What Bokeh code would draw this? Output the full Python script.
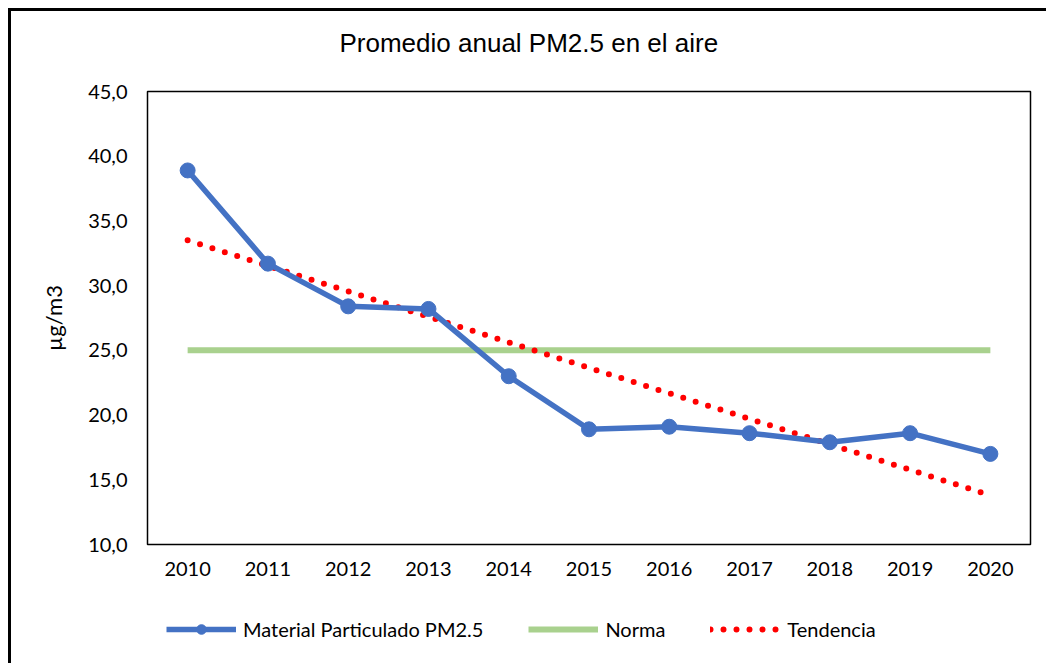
from bokeh.plotting import figure
from bokeh.layouts import column
from bokeh.models import (FactorRange, Range1d, FixedTicker, CustomJSTickFormatter,
                          Title, Legend, LegendItem)
from bokeh.embed import file_html
from bokeh.resources import INLINE

# ---- data ----
years = ["2010", "2011", "2012", "2013", "2014", "2015", "2016", "2017", "2018", "2019", "2020"]
pm25 = [38.9, 31.7, 28.4, 28.2, 23.0, 18.9, 19.1, 18.6, 17.9, 18.6, 17.0]
norma_years = ["2010", "2020"]
norma_values = [25.0, 25.0]
trend_years = ["2010", "2020"]
trend_values = [33.5, 13.8]
y_ticks = [10, 15, 20, 25, 30, 35, 40, 45]

title_text = "Promedio anual PM2.5 en el aire"
y_label = "µg/m3"
series_names = ["Material Particulado PM2.5", "Norma", "Tendencia"]

FONT = "Lato"
BLUE, GREEN, RED = "#4472C4", "#A9D18E", "#FF0000"


def add_series(fig):
    rn = fig.line(norma_years, norma_values, line_color=GREEN, line_width=6)
    rt = fig.line(trend_years, trend_values, line_color=RED, line_width=6,
                  line_dash="0 13", line_cap="round")
    rl = fig.line(years, pm25, line_color=BLUE, line_width=5.5, line_join="round")
    rp = fig.scatter(years, pm25, size=15, fill_color=BLUE, line_color=BLUE)
    return rn, rt, rl, rp


# ---- main chart ----
p = figure(width=1035, height=593, output_backend="svg", toolbar_location=None,
           x_range=FactorRange(*years), y_range=Range1d(10, 45),
           min_border_left=136, min_border_top=80, min_border_right=16, min_border_bottom=60)
p.background_fill_color = "white"
p.border_fill_color = "white"
p.outline_line_color = "black"
p.outline_line_width = 1.5
p.xgrid.visible = False
p.ygrid.visible = False

p.title.text = title_text
p.title.align = "left"
p.title.offset = 192
p.title.standoff = 0
p.title.text_font = "Liberation Sans"
p.title.text_font_size = "26px"
p.title.text_font_style = "normal"
p.title.text_color = "black"
p.add_layout(Title(text=" ", text_font_size="1px", standoff=31), "above")

for ax in (p.xaxis[0], p.yaxis[0]):
    ax.axis_line_color = None
    ax.major_tick_line_color = None
    ax.minor_tick_line_color = None
    ax.major_tick_in = 0
    ax.major_tick_out = 0
    ax.major_label_text_font = FONT
    ax.major_label_text_font_size = "20px"
    ax.major_label_text_color = "black"
p.xaxis.major_label_standoff = 17
p.yaxis.major_label_standoff = 20
p.yaxis.ticker = FixedTicker(ticks=y_ticks)
p.yaxis.formatter = CustomJSTickFormatter(code="return tick.toFixed(1).replace('.', ',');")
p.yaxis.axis_label = y_label
p.yaxis.axis_label_standoff = 18
p.yaxis.axis_label_text_font = FONT
p.yaxis.axis_label_text_font_size = "22px"
p.yaxis.axis_label_text_font_style = "normal"
p.yaxis.axis_label_text_color = "black"

add_series(p)

# ---- legend strip (same series styles, data kept out of view) ----
p2 = figure(width=1035, height=59, output_backend="svg", toolbar_location=None,
            x_range=FactorRange(*years), y_range=Range1d(100, 110),
            x_axis_location=None, y_axis_location=None, min_border=0)
p2.outline_line_color = None
p2.background_fill_color = "white"
p2.border_fill_color = "white"
p2.xgrid.visible = False
p2.ygrid.visible = False
rn, rt, rl, rp = add_series(p2)

legend = Legend(items=[LegendItem(label=series_names[0], renderers=[rl, rp]),
                       LegendItem(label=series_names[1], renderers=[rn]),
                       LegendItem(label=series_names[2], renderers=[rt])],
                orientation="horizontal", location=(19, 22),
                glyph_width=70, glyph_height=24, label_standoff=7, spacing=45,
                padding=0, margin=0, border_line_alpha=0, background_fill_alpha=0,
                label_text_font=FONT, label_text_font_size="20px", label_text_color="black")
p2.add_layout(legend, "center")

lay = column(p, p2, spacing=0)
lay.styles = {"margin-left": "8px", "margin-top": "8px",
              "border-left": "3px solid black", "border-top": "3px solid black"}

open("out.html", "w").write(file_html(lay, INLINE))
